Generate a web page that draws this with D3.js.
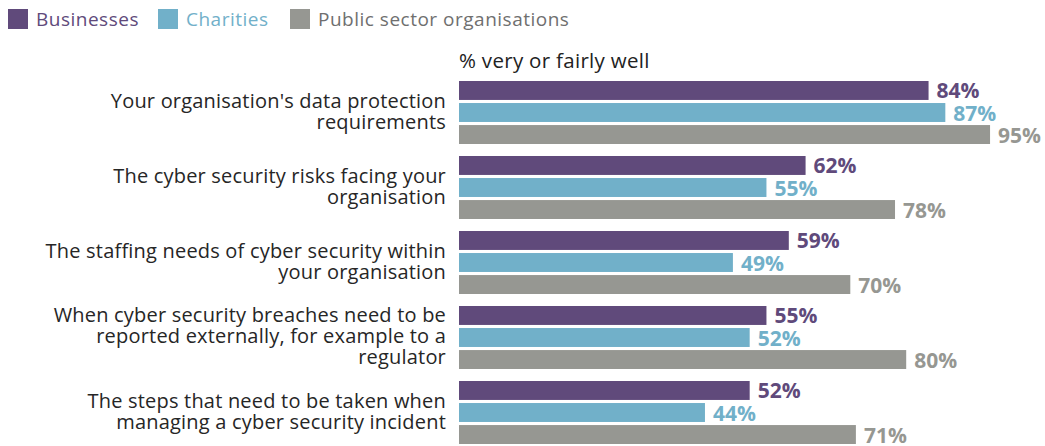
<!DOCTYPE html>
<html>
<head>
<meta charset="utf-8">
<title>Cyber security understanding</title>
<script src="https://d3js.org/d3.v7.min.js"></script>
<style>
  body { margin: 0; background: #fff; }
  svg text { font-family: "Open Sans", "Noto Sans", sans-serif; }
</style>
</head>
<body>
<div id="chart"></div>
<script>
var categories = [
  ["Your organisation's data protection", "requirements"],
  ["The cyber security risks facing your", "organisation"],
  ["The staffing needs of cyber security within", "your organisation"],
  ["When cyber security breaches need to be", "reported externally, for example to a", "regulator"],
  ["The steps that need to be taken when", "managing a cyber security incident"]
];
var seriesNames = ["Businesses", "Charities", "Public sector organisations"];
var businesses = [84, 62, 59, 55, 52];
var charities = [87, 55, 49, 52, 44];
var publicSector = [95, 78, 70, 80, 71];
var colors = ["#604a7b", "#71b0c9", "#969792"];

var width = 1045, height = 446;
var svg = d3.select("#chart").append("svg")
  .attr("width", width).attr("height", height);

var allSeries = [businesses, charities, publicSector];

var x = d3.scaleLinear().domain([0, 100]).range([459, 1018]);
var y0 = d3.scaleBand().domain(d3.range(categories.length)).range([81, 456]);
var y1 = d3.scaleBand().domain(d3.range(3)).range([0, 63]).paddingInner(0.14);

// legend
var legend = svg.append("g").selectAll("g").data(seriesNames).enter().append("g")
  .attr("transform", function(d, i) { return "translate(" + [8, 158, 290][i] + ",9)"; });
legend.append("rect").attr("width", 20).attr("height", 20)
  .attr("fill", function(d, i) { return colors[i]; });
legend.append("text").attr("x", 28).attr("y", 17).attr("font-size", 19)
  .attr("letter-spacing", 0.5)
  .attr("fill", function(d, i) { return i === 2 ? "#6f6f6f" : colors[i]; })
  .text(function(d) { return d; });

svg.append("text").attr("x", 459).attr("y", 68).attr("font-size", 20.5)
  .attr("letter-spacing", 0.3)
  .attr("fill", "#222").text("% very or fairly well");

var groups = svg.selectAll("g.grp").data(categories).enter().append("g")
  .attr("class", "grp")
  .attr("transform", function(d, i) { return "translate(0," + y0(i) + ")"; });

groups.each(function(cat, ci) {
  var g = d3.select(this);
  var mid = 30;
  var lh = 21;
  g.append("text").attr("text-anchor", "end").attr("font-size", 20)
    .attr("letter-spacing", 0.2).attr("fill", "#262626")
    .selectAll("tspan").data(cat).enter().append("tspan")
    .attr("x", 446)
    .attr("y", function(d, i) { return mid + (i - (cat.length - 1) / 2) * lh + 7; })
    .text(function(d) { return d; });

  allSeries.forEach(function(s, si) {
    g.append("rect")
      .attr("x", x(0)).attr("y", y1(si))
      .attr("width", x(s[ci]) - x(0)).attr("height", y1.bandwidth())
      .attr("fill", colors[si]);
    g.append("text")
      .attr("x", x(s[ci]) + 8).attr("y", y1(si) + y1.bandwidth() / 2 + 8)
      .attr("font-size", 21).attr("font-weight", "bold")
      .attr("fill", colors[si])
      .text(s[ci] + "%");
  });
});
</script>
</body>
</html>
